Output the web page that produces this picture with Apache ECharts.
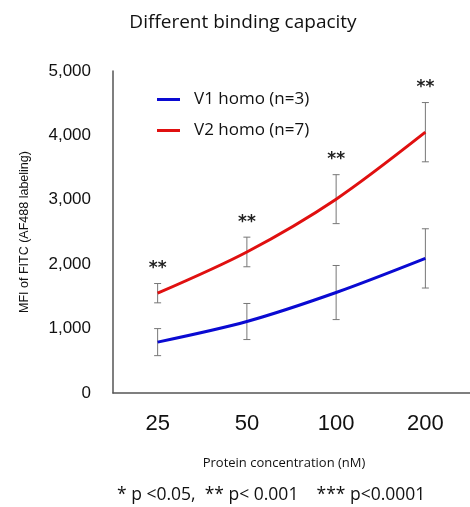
<!DOCTYPE html>
<html>
<head>
  <meta charset="utf-8">
  <script src="https://cdn.jsdelivr.net/npm/echarts@6/dist/echarts.min.js"></script>
  <style>
    html, body { margin: 0; padding: 0; background: #fff; }
  </style>
</head>
<body>
  <div id="chart" style="width: 470px; height: 507px;"></div>
  <script>
    // data
    var categories = ['25', '50', '100', '200'];
    var v1Mean = [790, 1110, 1560, 2090];
    var v1Err = [210, 280, 420, 460];
    var v2Mean = [1550, 2190, 3010, 4050];
    var v2Err = [150, 230, 380, 460];
    var sigMarks = ['**', '**', '**', '**'];
    var yTicks = [0, 1000, 2000, 3000, 4000, 5000];

    var chart = echarts.init(document.getElementById('chart'));

    function errData(mean, err) {
      return mean.map(function (m, i) { return [i, m - err[i], m + err[i], sigMarks[i]]; });
    }

    function errorBars(withStars) {
      return function (params, api) {
        var x = api.value(0);
        var lo = api.coord([x, api.value(1)]);
        var hi = api.coord([x, api.value(2)]);
        var cap = 3.5;
        var style = { stroke: '#777', lineWidth: 1 };
        var children = [
          { type: 'line', shape: { x1: hi[0], y1: hi[1], x2: lo[0], y2: lo[1] }, style: style },
          { type: 'line', shape: { x1: hi[0] - cap, y1: hi[1], x2: hi[0] + cap, y2: hi[1] }, style: style },
          { type: 'line', shape: { x1: lo[0] - cap, y1: lo[1], x2: lo[0] + cap, y2: lo[1] }, style: style }
        ];
        if (withStars) {
          children.push({
            type: 'text',
            style: {
              x: hi[0], y: hi[1] - 15, text: api.value(3),
              fill: '#222', font: 'bold 17px "DejaVu Sans"',
              align: 'center', verticalAlign: 'middle'
            }
          });
        }
        return { type: 'group', children: children };
      };
    }

    var option = {
      animation: false,
      title: {
        text: 'Different binding capacity',
        left: 238, top: 8, textAlign: 'center',
        textStyle: { fontFamily: 'Open Sans', fontSize: 19, fontWeight: 500, color: '#111' }
      },
      legend: {
        orient: 'vertical',
        left: 152, top: 84,
        itemGap: 10,
        itemWidth: 23, itemHeight: 3,
        icon: 'rect',
        textStyle: { fontFamily: 'Open Sans', fontSize: 17, color: '#111', padding: [0, 0, 0, 9], lineHeight: 21 },
        data: ['V1 homo (n=3)', 'V2 homo (n=7)']
      },
      grid: { left: 113, top: 71, width: 360, bottom: 114 },
      xAxis: {
        type: 'category',
        data: categories,
        boundaryGap: true,
        axisLine: { lineStyle: { color: '#555', width: 1.5 } },
        axisTick: { show: false },
        axisLabel: { fontFamily: 'Liberation Sans', fontSize: 22, color: '#111', margin: 20 },
        name: 'Protein concentration (nM)',
        nameLocation: 'middle',
        nameGap: 64,
        nameTextStyle: { fontFamily: 'Open Sans', fontSize: 13, color: '#111', padding: [0, 15, 0, 0] }
      },
      yAxis: {
        type: 'value',
        min: yTicks[0], max: yTicks[yTicks.length - 1], interval: 1000,
        axisLine: { show: true, lineStyle: { color: '#555', width: 1.5 } },
        axisTick: { show: false },
        splitLine: { show: false },
        axisLabel: {
          fontFamily: 'Liberation Sans', fontSize: 17, color: '#111', margin: 22,
          formatter: function (v) { return v.toLocaleString('en-US'); }
        },
        name: 'MFI of FITC (AF488 labeling)',
        nameLocation: 'middle',
        nameGap: 82,
        nameRotate: 90,
        nameTextStyle: { fontFamily: 'Liberation Sans', fontSize: 12.5, color: '#111' }
      },
      series: [
        {
          name: 'V1 homo (n=3)', type: 'line', data: v1Mean, smooth: 0.3,
          symbol: 'none', color: '#0a0ad2', lineStyle: { width: 3 }, z: 3
        },
        {
          name: 'V2 homo (n=7)', type: 'line', data: v2Mean, smooth: 0.3,
          symbol: 'none', color: '#e01010', lineStyle: { width: 3 }, z: 3
        },
        { type: 'custom', data: errData(v1Mean, v1Err), renderItem: errorBars(false), z: 2 },
        { type: 'custom', data: errData(v2Mean, v2Err), renderItem: errorBars(true), z: 2 }
      ],
      graphic: [
        {
          type: 'text', left: 117, top: 486,
          style: {
            text: '* p <0.05,  ** p< 0.001    *** p<0.0001',
            font: '17.5px "Open Sans"', fill: '#111'
          }
        }
      ]
    };

    chart.setOption(option);
  </script>
</body>
</html>
